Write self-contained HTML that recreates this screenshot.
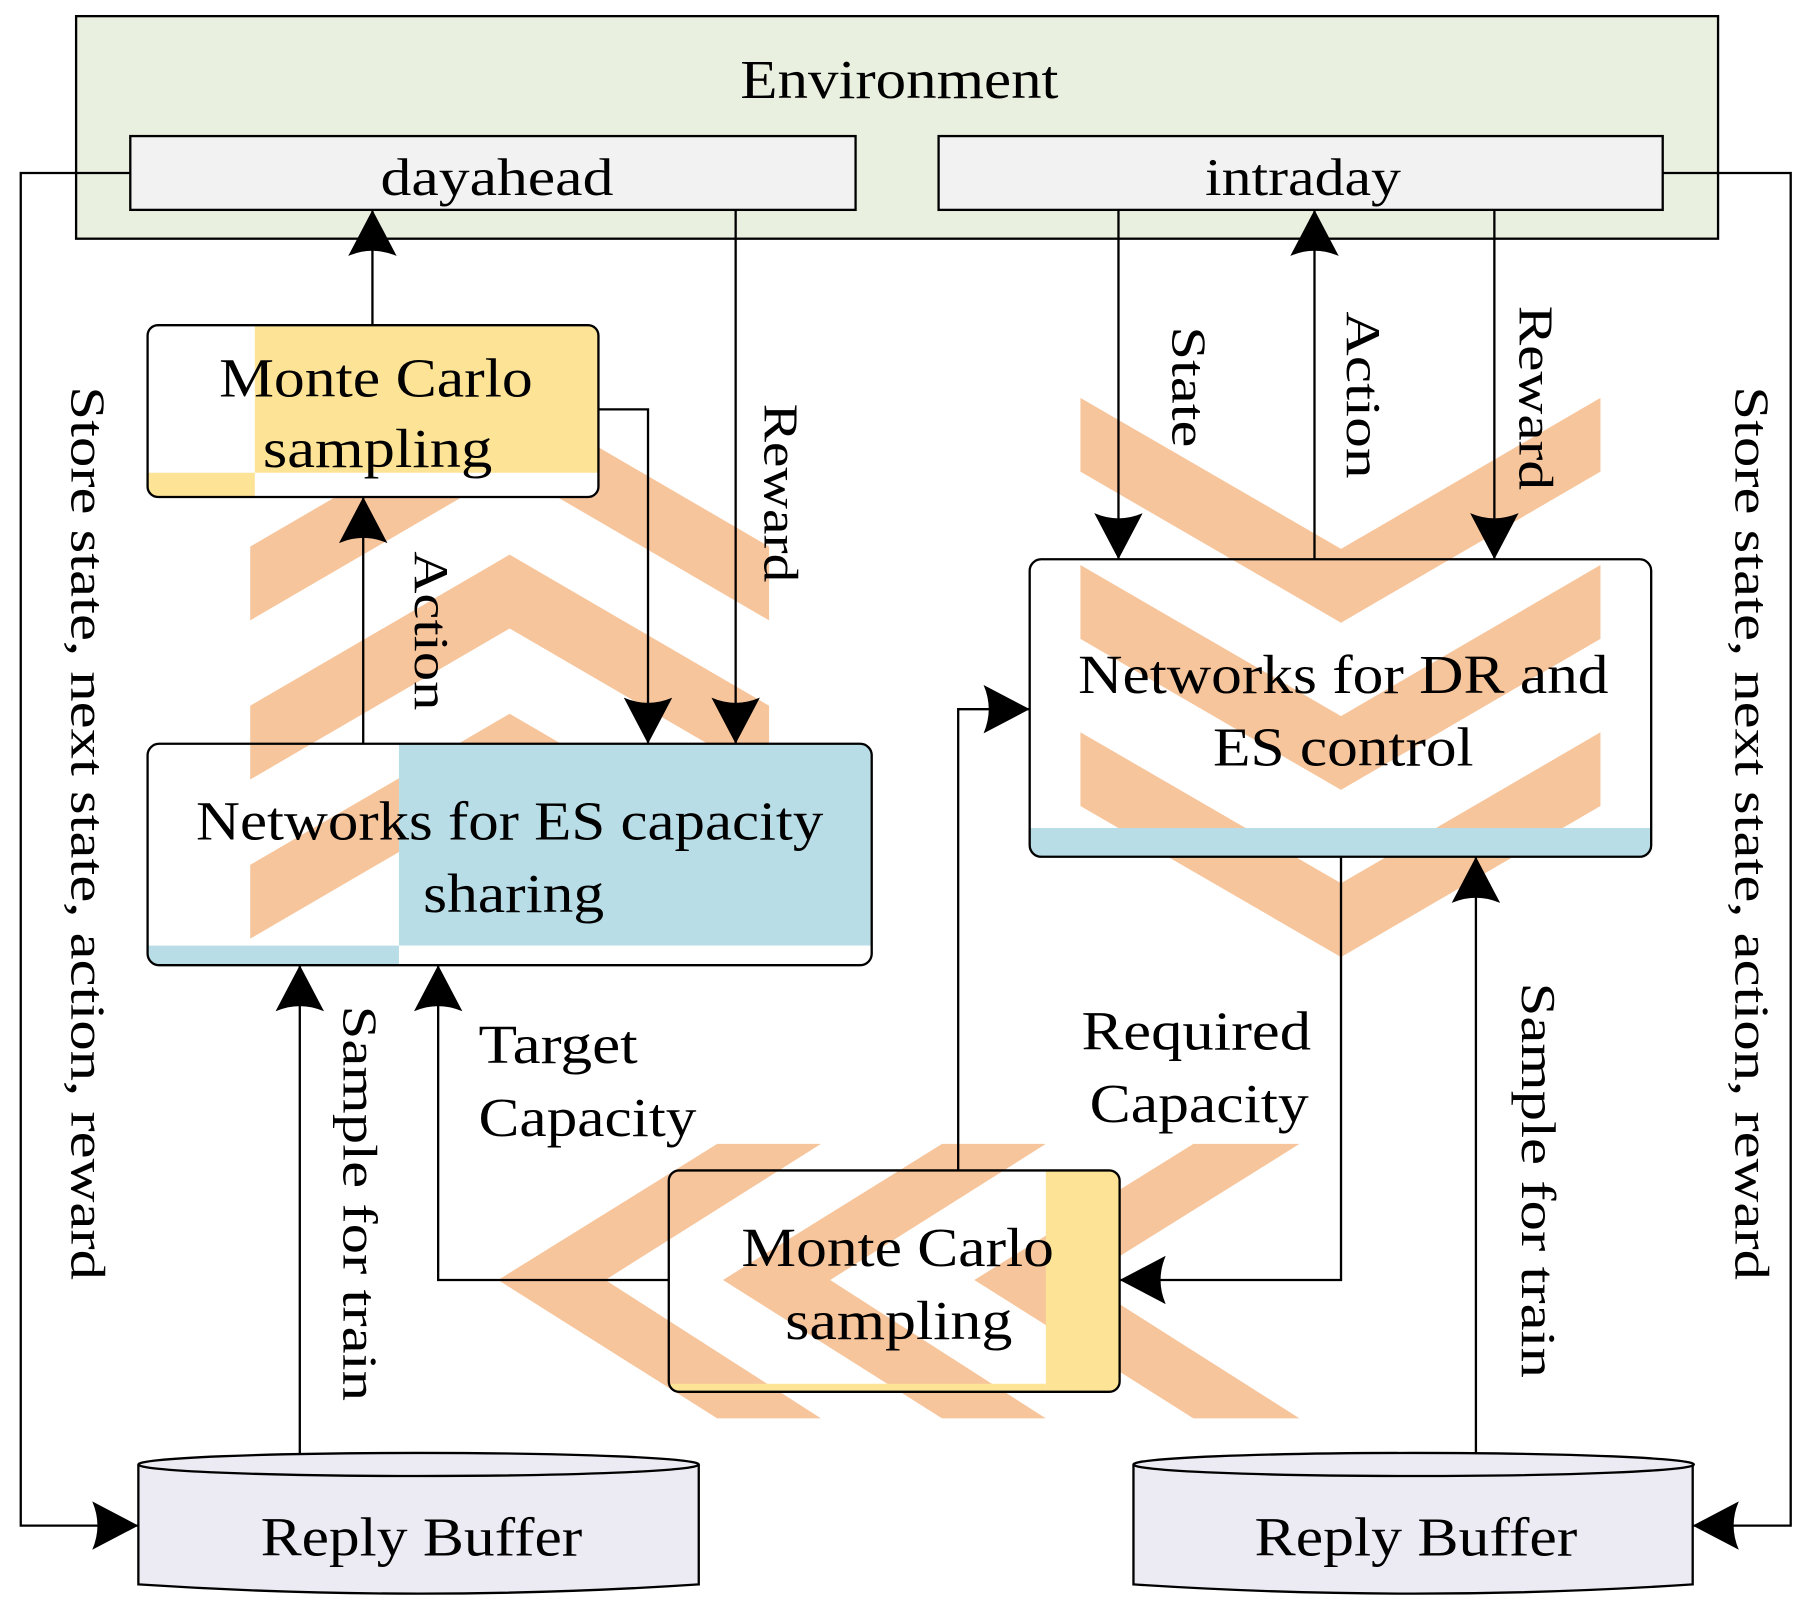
<!DOCTYPE html>
<html><head><meta charset="utf-8"><style>html,body{margin:0;padding:0;background:#fff}svg{display:block}</style></head>
<body>
<svg width="1808" height="1619" viewBox="0 0 1568 1404" preserveAspectRatio="none" xmlns="http://www.w3.org/2000/svg" font-family="Liberation Serif, serif" fill="#000">
<defs>
<marker id="a" markerWidth="44" markerHeight="44" refX="40" refY="21" orient="auto" markerUnits="userSpaceOnUse">
<path d="M0,0 L40,21 L0,42 Q9,21 0,0 Z" fill="#000"/>
</marker>
</defs>
<rect width="1568" height="1404" fill="#fff"/>
<rect x="66" y="14" width="1424" height="193" fill="#eaf0df" stroke="#000" stroke-width="2"/>
<text x="642" y="85" font-size="48" textLength="276" lengthAdjust="spacingAndGlyphs">Environment</text>
<rect x="113" y="118" width="629" height="64" fill="#f2f2f2" stroke="#000" stroke-width="2"/>
<text x="330" y="169" font-size="46" textLength="202" lengthAdjust="spacingAndGlyphs">dayahead</text>
<rect x="814" y="118" width="628" height="64" fill="#f2f2f2" stroke="#000" stroke-width="2"/>
<text x="1045" y="169" font-size="46" textLength="170" lengthAdjust="spacingAndGlyphs">intraday</text>

<g fill="#f7c59b">
<path d="M217,474 L442,343 L667,474 L667,538 L442,407 L217,538Z"/>
<path d="M217,612 L442,481 L667,612 L667,676 L442,545 L217,676Z"/>
<path d="M217,750 L442,619 L667,750 L667,814 L442,683 L217,814Z"/>
<path d="M937,345 L1163,476 L1388,345 L1388,409 L1163,540 L937,409Z"/>
<path d="M937,490 L1163,621 L1388,490 L1388,554 L1163,685 L937,554Z"/>
<path d="M937,635 L1163,766 L1388,635 L1388,699 L1163,830 L937,699Z"/>
<path d="M622,992 L712,992 L525,1110 L712,1230 L622,1230 L432,1110Z"/>
<path d="M817,992 L907,992 L720,1110 L907,1230 L817,1230 L627,1110Z"/>
<path d="M1035,992 L1127,992 L938,1110 L1127,1230 L1035,1230 L845,1110Z"/>
</g>

<rect x="128" y="282" width="391" height="149" rx="9" fill="#fff"/>
<path d="M221,282 L510,282 Q519,282 519,291 L519,410 L221,410Z" fill="#fde396"/>
<path d="M128,410 L221,410 L221,431 L137,431 Q128,431 128,422Z" fill="#fde396"/>
<rect x="128" y="282" width="391" height="149" rx="9" fill="none" stroke="#000" stroke-width="2"/>
<text x="190" y="344" font-size="48" textLength="272" lengthAdjust="spacingAndGlyphs">Monte Carlo</text>
<text x="228" y="405" font-size="48" textLength="199" lengthAdjust="spacingAndGlyphs">sampling</text>

<path d="M346,645 L746,645 Q756,645 756,655 L756,820 L346,820Z" fill="#b8dde7"/>
<path d="M128,820 L346,820 L346,837 L138,837 Q128,837 128,827Z" fill="#b8dde7"/>
<path d="M346,820 L756,820 L756,827 Q756,837 746,837 L346,837Z" fill="#fff"/>
<rect x="128" y="645" width="628" height="192" rx="10" fill="none" stroke="#000" stroke-width="2"/>
<text x="170" y="728" font-size="48" textLength="544" lengthAdjust="spacingAndGlyphs">Networks for ES capacity</text>
<text x="367" y="791" font-size="48" textLength="157" lengthAdjust="spacingAndGlyphs">sharing</text>

<path d="M893,718 L1432,718 L1432,733 Q1432,743 1422,743 L903,743 Q893,743 893,733Z" fill="#b8dde7"/>
<rect x="893" y="485" width="539" height="258" rx="10" fill="none" stroke="#000" stroke-width="2"/>
<text x="935" y="601" font-size="48" textLength="460" lengthAdjust="spacingAndGlyphs">Networks for DR and</text>
<text x="1052" y="664" font-size="48" textLength="226" lengthAdjust="spacingAndGlyphs">ES control</text>

<path d="M907,1015 L962,1015 Q971,1015 971,1024 L971,1198 Q971,1207 962,1207 L907,1207Z" fill="#fde396"/>
<path d="M580,1200 L907,1200 L907,1207 L589,1207 Q580,1207 580,1200Z" fill="#fde396"/>
<rect x="580" y="1015" width="391" height="192" rx="9" fill="none" stroke="#000" stroke-width="2"/>
<text x="643" y="1098" font-size="48" textLength="271" lengthAdjust="spacingAndGlyphs">Monte Carlo</text>
<text x="681" y="1161" font-size="48" textLength="197" lengthAdjust="spacingAndGlyphs">sampling</text>

<g fill="#ecebf3" stroke="#000" stroke-width="2">
<path d="M120,1270 L120,1374 Q363,1390 606,1374 L606,1270"/>
<ellipse cx="363" cy="1270" rx="243" ry="10"/>
<path d="M983,1270 L983,1374 Q1226,1390 1468,1374 L1468,1270"/>
<ellipse cx="1226" cy="1270" rx="243" ry="10"/>
</g>
<text x="226" y="1349" font-size="48" textLength="279" lengthAdjust="spacingAndGlyphs">Reply Buffer</text>
<text x="1088" y="1349" font-size="48" textLength="280" lengthAdjust="spacingAndGlyphs">Reply Buffer</text>

<g fill="none" stroke="#000" stroke-width="2">
<path d="M113,150 L18,150 L18,1323 L120,1323" marker-end="url(#a)"/>
<path d="M1442,150 L1553,150 L1553,1323 L1468,1323" marker-end="url(#a)"/>
<path d="M323,282 L323,182" marker-end="url(#a)"/>
<path d="M519,355 L562,355 L562,645" marker-end="url(#a)"/>
<path d="M638,182 L638,645" marker-end="url(#a)"/>
<path d="M315,645 L315,431" marker-end="url(#a)"/>
<path d="M970,182 L970,485" marker-end="url(#a)"/>
<path d="M1140,485 L1140,182" marker-end="url(#a)"/>
<path d="M1296,182 L1296,485" marker-end="url(#a)"/>
<path d="M580,1110 L380,1110 L380,837" marker-end="url(#a)"/>
<path d="M831,1015 L831,615 L893,615" marker-end="url(#a)"/>
<path d="M1163,743 L1163,1110 L971,1110" marker-end="url(#a)"/>
<path d="M260,1260 L260,837" marker-end="url(#a)"/>
<path d="M1280,1260 L1280,743" marker-end="url(#a)"/>
</g>

<g font-size="42">
<text transform="translate(62,335) rotate(90)" textLength="775" lengthAdjust="spacingAndGlyphs">Store state, next state, action, reward</text>
<text transform="translate(1505,335) rotate(90)" textLength="775" lengthAdjust="spacingAndGlyphs">Store state, next state, action, reward</text>
<text transform="translate(663,350) rotate(90)" textLength="155" lengthAdjust="spacingAndGlyphs">Reward</text>
<text transform="translate(360,478) rotate(90)" textLength="138" lengthAdjust="spacingAndGlyphs">Action</text>
<text transform="translate(1017,283) rotate(90)" textLength="105" lengthAdjust="spacingAndGlyphs">State</text>
<text transform="translate(1168,270) rotate(90)" textLength="145" lengthAdjust="spacingAndGlyphs">Action</text>
<text transform="translate(1318,265) rotate(90)" textLength="160" lengthAdjust="spacingAndGlyphs">Reward</text>
<text transform="translate(298,872) rotate(90)" textLength="343" lengthAdjust="spacingAndGlyphs">Sample for train</text>
<text transform="translate(1320,852) rotate(90)" textLength="343" lengthAdjust="spacingAndGlyphs">Sample for train</text>
</g>
<g font-size="48">
<text x="415" y="922" textLength="138" lengthAdjust="spacingAndGlyphs">Target</text>
<text x="415" y="985" textLength="189" lengthAdjust="spacingAndGlyphs">Capacity</text>
<text x="938" y="910" textLength="199" lengthAdjust="spacingAndGlyphs">Required</text>
<text x="945" y="973" textLength="190" lengthAdjust="spacingAndGlyphs">Capacity</text>
</g>
</svg>
</body></html>
